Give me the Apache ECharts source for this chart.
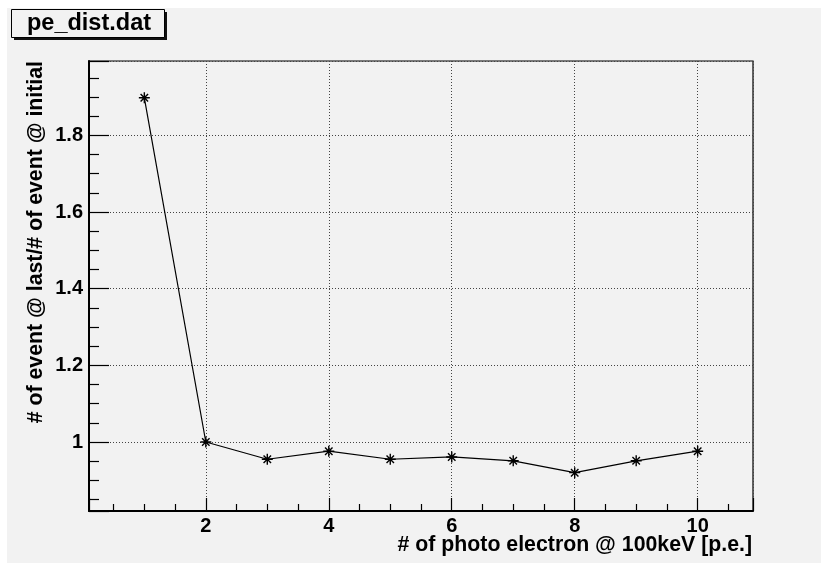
<!DOCTYPE html>
<html>
<head>
<meta charset="utf-8">
<script src="https://cdn.jsdelivr.net/npm/echarts@6/dist/echarts.min.js"></script>
<style>
  html, body { margin: 0; padding: 0; background: #fff; }
  .pad_bg { position: absolute; left: 7px; top: 8px; width: 814px; height: 555px; background: #f2f2f2; }
  #main { position: absolute; left: 0; top: 0; width: 821px; height: 563px; }
</style>
</head>
<body>
<div class="pad_bg"></div>
<div id="main"></div>
<script>
// photo electrons at 100keV
var peValues = [1, 2, 3, 4, 5, 6, 7, 8, 9, 10];
// ratio last / initial
var ratioValues = [1.898, 1.0, 0.955, 0.976, 0.955, 0.961, 0.951, 0.920, 0.951, 0.976];

var xRange = [0.1, 10.9];
var yRange = [0.82, 1.994];

var titleText = 'pe_dist.dat';
var xName = '# of photo electron @ 100keV [p.e.]';
var yName = '# of event @ last/# of event @ initial';

var font = 'Liberation Sans, Arial, Helvetica, sans-serif';
var starPath = 'path://M5 0L5 10M0 5L10 5M1.6 1.6L8.4 8.4M1.6 8.4L8.4 1.6';

var chart = echarts.init(document.getElementById('main'));

chart.setOption({
  animation: false,
  backgroundColor: 'transparent',
  grid: {
    left: 89, right: 68, top: 61, bottom: 52,
    outerBoundsMode: 'none',
    containLabel: false,
    show: true,
    borderColor: '#000',
    borderWidth: 1.2,
    backgroundColor: 'transparent'
  },
  // 标题框 + x轴名
  graphic: [
    { type: 'rect', shape: { x: 14, y: 12, width: 153, height: 28 }, style: { fill: '#111' } },
    { type: 'rect', shape: { x: 11.5, y: 9.5, width: 153, height: 28 }, style: { fill: '#f2f2f2', stroke: '#000', lineWidth: 1 } },
    { type: 'text', x: 89, y: 24, style: { text: titleText, font: 'bold 23.5px ' + font, fill: '#000', align: 'center', verticalAlign: 'middle' } },
    { type: 'text', x: 752, y: 545, style: { text: xName, font: 'bold 21.3px ' + font, fill: '#000', align: 'right', verticalAlign: 'middle' } }
  ],
  xAxis: {
    type: 'value',
    min: xRange[0],
    max: xRange[1],
    splitNumber: 5,
    axisLine: { show: true, lineStyle: { color: '#000', width: 2 } },
    axisTick: { show: true, inside: true, length: 13, lineStyle: { color: '#000', width: 1.2 } },
    minorTick: { show: true, splitNumber: 4, length: 7, lineStyle: { color: '#000', width: 1.2 } },
    axisLabel: {
      showMinLabel: false, showMaxLabel: false, margin: 5,
      fontFamily: font, fontWeight: 'bold', fontSize: 20, color: '#000'
    },
    splitLine: { show: true, lineStyle: { color: '#444', width: 1, type: [1, 2] } }
  },
  yAxis: {
    type: 'value',
    min: yRange[0],
    max: yRange[1],
    splitNumber: 5,
    name: yName,
    nameLocation: 'end',
    nameGap: 0,
    nameRotate: 90,
    nameTextStyle: {
      fontFamily: font, fontWeight: 'bold', fontSize: 21.3, color: '#000',
      align: 'right', verticalAlign: 'bottom', padding: [0, 0, 42, 0]
    },
    axisLine: { show: true, lineStyle: { color: '#000', width: 2 } },
    axisTick: { show: true, inside: true, length: 20, lineStyle: { color: '#000', width: 1.2 } },
    minorTick: { show: true, splitNumber: 4, length: 10, lineStyle: { color: '#000', width: 1.2 } },
    axisLabel: {
      showMinLabel: false, showMaxLabel: false, margin: 6,
      fontFamily: font, fontWeight: 'bold', fontSize: 20, color: '#000'
    },
    splitLine: { show: true, lineStyle: { color: '#444', width: 1, type: [1, 2] } }
  },
  series: [{
    type: 'line',
    data: peValues.map(function (x, i) { return [x, ratioValues[i]]; }),
    symbol: starPath,
    symbolSize: 11,
    showAllSymbol: true,
    lineStyle: { color: '#000', width: 1.2 },
    itemStyle: { color: '#000', borderColor: '#000', borderWidth: 1.4 },
    z: 5
  }]
});
</script>
</body>
</html>
